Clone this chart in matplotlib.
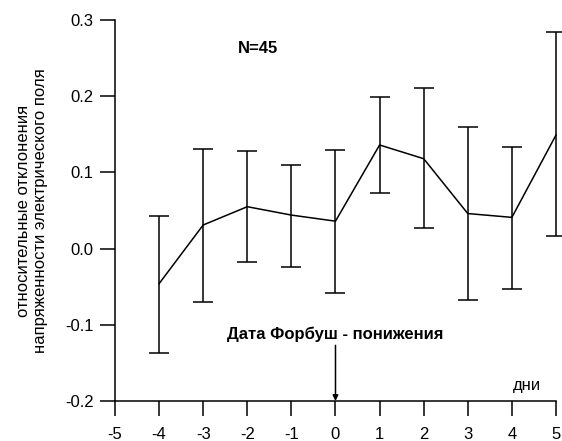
import matplotlib.pyplot as plt
import numpy as np

plt.rcParams['font.family'] = ['Liberation Sans', 'DejaVu Sans']

# Data
days = [-4, -3, -2, -1, 0, 1, 2, 3, 4, 5]
means = [-0.046, 0.031, 0.055, 0.044, 0.036, 0.136, 0.118, 0.046, 0.041, 0.149]
upper = [0.043, 0.131, 0.128, 0.110, 0.129, 0.199, 0.211, 0.160, 0.134, 0.284]
lower = [-0.137, -0.070, -0.018, -0.024, -0.058, 0.073, 0.027, -0.068, -0.053, 0.016]
xticks = [-5, -4, -3, -2, -1, 0, 1, 2, 3, 4, 5]
yticks = [-0.2, -0.1, 0.0, 0.1, 0.2, 0.3]

means = np.array(means)
yerr = [means - np.array(lower), np.array(upper) - means]

fig = plt.figure(figsize=(5.62, 4.41), dpi=100)
ax = fig.add_axes([0.2046, 0.0907, 0.7847, 0.8639])

line, caps, bars = ax.errorbar(days, means, yerr=yerr, color='black', lw=1.1,
                               elinewidth=1.1, capsize=7.5, capthick=1.1)
line.set_clip_on(False)
for c in caps:
    c.set_clip_on(False)
for b in bars:
    b.set_clip_on(False)

ax.set_xlim(-5, 5)
ax.set_ylim(-0.2, 0.3)
ax.set_xticks(xticks)
ax.set_xticklabels([str(t) for t in xticks])
ax.set_yticks(yticks)
ax.set_yticklabels(['%.1f' % t for t in yticks])
ax.tick_params(direction='out', length=10.5, width=1.1, labelsize=12, pad=5)
ax.tick_params(axis='x', pad=8)

for s in ['top', 'right']:
    ax.spines[s].set_visible(False)
for s in ['left', 'bottom']:
    ax.spines[s].set_linewidth(1.1)

ax.set_ylabel('относительные отклонения\nнапряженности электрического поля',
              fontsize=12, labelpad=12)

ax.text(-1.76, 0.262, 'N=45', fontsize=12, fontweight='bold',
        ha='center', va='center')
ax.text(0, -0.113, 'Дата Форбуш - понижения', fontsize=12,
        fontweight='bold', ha='center', va='center')
ax.annotate('', xy=(0, -0.2), xytext=(0, -0.127),
            arrowprops=dict(arrowstyle='-|>', color='black', lw=1.1,
                            mutation_scale=8, shrinkA=0, shrinkB=0))
ax.text(4.34, -0.18, 'дни', fontsize=12, ha='center', va='center')

fig.savefig('out.png', dpi=100)
